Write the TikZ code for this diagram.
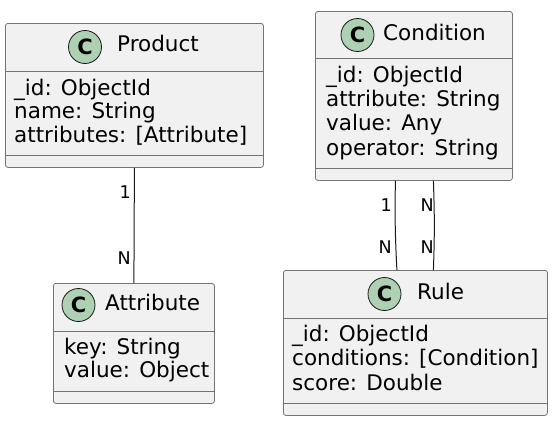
\documentclass[tikz,border=0pt]{standalone}
\usepackage{fontspec}
\setmainfont{DejaVu Sans}
\usetikzlibrary{calc}
\definecolor{boxfill}{HTML}{F1F1F1}
\definecolor{boxline}{HTML}{181818}
\definecolor{spot}{HTML}{ADD1B2}
\begin{document}
\begin{tikzpicture}[x=1pt,y=-1pt,
  cls/.style={draw=boxline!60, fill=boxfill, line width=0.8pt, rounded corners=2.5pt, anchor=north west, inner sep=0},
  sep/.style={draw=boxline!60, line width=0.8pt},
  fld/.style={anchor=west, inner sep=0, font=\fontsize{21.5}{24}\selectfont, text height=15pt, text depth=4.5pt},
  ttl/.style={anchor=west, inner sep=0, font=\fontsize{21.5}{24}\selectfont, text height=15pt, text depth=4.5pt},
  spotc/.style={circle, draw=boxline, fill=spot, line width=0.8pt, minimum size=33pt, inner sep=0, font=\fontsize{21}{21}\selectfont\bfseries},
  rel/.style={draw=boxline, line width=1pt},
  mult/.style={anchor=east, inner sep=0, font=\fontsize{17.5}{18}\selectfont}]
\useasboundingbox (0,0) rectangle (553,431);

% Product
\node[cls, minimum width=258pt, minimum height=144pt] (prod) at (5,23) {};
\draw[sep] (prod.west |- 0,71) -- (prod.east |- 0,71);
\draw[sep] (prod.west |- 0,155) -- (prod.east |- 0,155);
\node[spotc] (prodc) at (85,47) {C};
\node[ttl] (prodt) at (117,46) {Product};
\node[fld] (prod1) at (14,90) {\_id: ObjectId};
\node[fld] (prod2) at (14,113) {name: String};
\node[fld] (prod3) at (14,137) {attributes: [Attribute]};

% Condition
\node[cls, minimum width=197pt, minimum height=169pt] (cond) at (315,11) {};
\draw[sep] (cond.west |- 0,58) -- (cond.east |- 0,58);
\draw[sep] (cond.west |- 0,168) -- (cond.east |- 0,168);
\node[spotc] (condc) at (357.5,35) {C};
\node[ttl] (condt) at (383,35) {Condition};
\node[fld] (cond1) at (326,77) {\_id: ObjectId};
\node[fld] (cond2) at (326,101) {attribute: String};
\node[fld] (cond3) at (326,125) {value: Any};
\node[fld] (cond4) at (326,150) {operator: String};

% Attribute
\node[cls, minimum width=161pt, minimum height=120pt] (attr) at (53,283) {};
\draw[sep] (attr.west |- 0,331) -- (attr.east |- 0,331);
\draw[sep] (attr.west |- 0,391) -- (attr.east |- 0,391);
\node[spotc] (attrc) at (78.5,305) {C};
\node[ttl] (attrt) at (105,305) {Attribute};
\node[fld] (attr1) at (64,349) {key: String};
\node[fld] (attr2) at (64,372) {value: Object};

% Rule
\node[cls, minimum width=264pt, minimum height=145pt] (rule) at (283,270) {};
\draw[sep] (rule.west |- 0,318) -- (rule.east |- 0,318);
\draw[sep] (rule.west |- 0,403) -- (rule.east |- 0,403);
\node[spotc] (rulec) at (384.5,294) {C};
\node[ttl] (rulet) at (417,294) {Rule};
\node[fld] (rule1) at (292,336) {\_id: ObjectId};
\node[fld] (rule2) at (292,360) {conditions: [Condition]};
\node[fld] (rule3) at (292,385) {score: Double};

% Relations
\draw[rel] (prod.south) -- (attr.north);
\node[mult] (m1) at (131,192) {1};
\node[mult] (m2) at (131,258) {N};

\draw[rel] ([xshift=-18.5pt]cond.south) to[bend right=2] ([xshift=-18.5pt]rule.north);
\draw[rel] ([xshift=19.5pt]cond.south) to[bend left=2] ([xshift=18pt]rule.north);
\node[mult] (m3) at (392,205) {1};
\node[mult] (m4) at (392,247) {N};
\node[mult] (m5) at (434,205) {N};
\node[mult] (m6) at (434,247) {N};
\end{tikzpicture}
\end{document}
